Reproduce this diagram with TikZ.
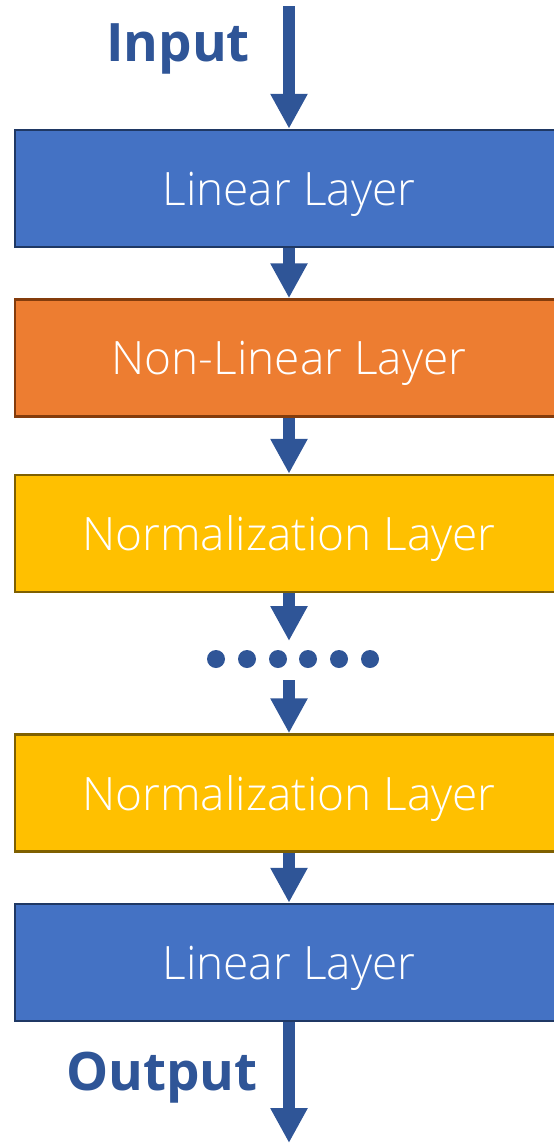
\documentclass[tikz,border=0pt]{standalone}
\usepackage{fontspec}
\setmainfont{Open Sans}
\newfontfamily\lightfont{Open Sans Light}
\usetikzlibrary{arrows.meta}
\definecolor{arrowblue}{HTML}{2F5597}
\definecolor{boxblue}{HTML}{4472C4}
\definecolor{boxblueedge}{HTML}{1F3864}
\definecolor{boxorange}{HTML}{ED7D31}
\definecolor{boxorangeedge}{HTML}{843C0C}
\definecolor{boxyellow}{HTML}{FFC000}
\definecolor{boxyellowedge}{HTML}{7F6000}
\tikzset{
  layer/.style={draw, line width=2.5pt, minimum width=548pt, minimum height=117pt,
    inner sep=0pt, text=white, text depth=0pt, font=\lightfont\fontsize{46}{46}\selectfont},
  bluebox/.style={layer, fill=boxblue, draw=boxblueedge},
  orangebox/.style={layer, fill=boxorange, draw=boxorangeedge},
  yellowbox/.style={layer, fill=boxyellow, draw=boxyellowedge},
  flow/.style={draw=arrowblue, line width=12pt,
    -{Triangle[width=35pt,length=35pt]}, arrowblue},
  io/.style={inner sep=0pt, anchor=base west, text=arrowblue,
    font=\bfseries\fontsize{53}{53}\selectfont},
  dot/.style={circle, fill=arrowblue, minimum size=18pt, inner sep=0pt}
}
\begin{document}
\begin{tikzpicture}[x=1pt,y=1pt]
\useasboundingbox (0,0) rectangle (554,-1143);
\clip (0,0) rectangle (554,-1143);
\node[bluebox]   (b1) at (289,-188.5) {Linear Layer};
\node[orangebox] (b2) at (289,-358)   {Non-Linear Layer};
\node[yellowbox] (b3) at (289,-533.5) {Normalization Layer};
\node[yellowbox] (b4) at (289,-793)   {Normalization Layer};
\node[bluebox]   (b5) at (289,-962.5) {Linear Layer};
\coordinate (in) at (289,-6);
\coordinate (out) at (289,-1143);
\coordinate (d1) at (289,-641);
\coordinate (d2) at (289,-680);
\foreach \i/\x in {1/216,2/247,3/278,4/308,5/339,6/370}
  \node[dot] (dot\i) at (\x,-659) {};
\node[io] (inlbl) at (106,-61) {Input};
\node[io] (outlbl) at (66,-1090) {Output};
\draw[flow] (in) -- (b1.north);
\draw[flow] (b1.south) -- (b2.north);
\draw[flow] (b2.south) -- (b3.north);
\draw[flow] (b3.south) -- (d1);
\draw[flow] (d2) -- (b4.north);
\draw[flow] (b4.south) -- (b5.north);
\draw[flow] (b5.south) -- (out);
\end{tikzpicture}
\end{document}
